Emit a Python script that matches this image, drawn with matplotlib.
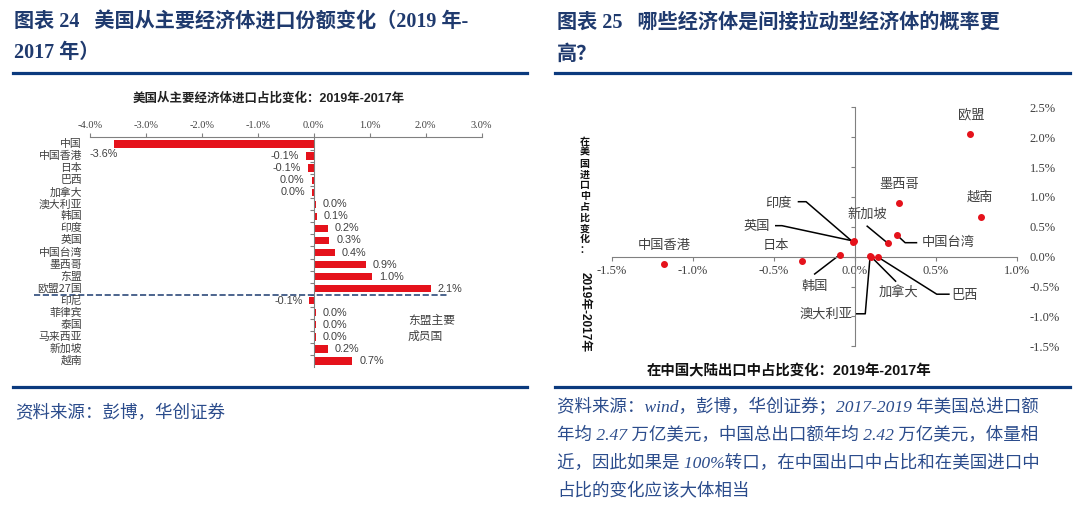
import matplotlib.pyplot as plt
from matplotlib.lines import Line2D

plt.rcParams['font.family'] = ['Liberation Sans', 'Noto Sans CJK SC']

navy = '#1F3A6E'
rule_c = '#0B3A7E'
red = '#E5121B'
gray = '#404040'

# left chart: change of share in US imports, 2019 vs 2017 (%)
bar_names = ['中国', '中国香港', '日本', '巴西', '加拿大', '澳大利亚', '韩国', '印度', '英国', '中国台湾',
             '墨西哥', '东盟', '欧盟27国', '印尼', '菲律宾', '泰国', '马来西亚', '新加坡', '越南']
bar_vals = [-3.58, -0.14, -0.10, -0.04, -0.03, 0.03, 0.05, 0.25, 0.28, 0.38,
            0.93, 1.04, 2.09, -0.08, 0.03, 0.03, 0.04, 0.25, 0.69]
bar_ticks = [-4, -3, -2, -1, 0, 1, 2, 3]

# right chart: share change in China exports (x) vs US imports (y)
sc_names = ['欧盟', '墨西哥', '越南', '中国台湾', '新加坡', '印度', '英国', '韩国', '日本', '中国香港',
            '澳大利亚', '加拿大', '巴西']
sc_x = [0.711, 0.272, 0.781, 0.261, 0.204, -0.01, -0.006, -0.093, -0.329, -1.178, 0.094, 0.102, 0.144]
sc_y = [2.05, 0.893, 0.658, 0.357, 0.223, 0.24, 0.26, 0.033, -0.078, -0.128, 0.01, -0.005, -0.01]
sc_xticks = [-1.5, -1.0, -0.5, 0.0, 0.5, 1.0]
sc_yticks = [-1.5, -1.0, -0.5, 0.0, 0.5, 1.0, 1.5, 2.0, 2.5]

# label placement (text x, text y, ha, elbow points of leader line)
label_layout = {
    '欧盟': (0.718, 2.37, 'center', None),
    '墨西哥': (0.272, 1.20, 'center', None),
    '越南': (0.771, 0.99, 'center', None),
    '新加坡': (0.076, 0.71, 'center', [(0.076, 0.51)]),
    '中国台湾': (0.41, 0.234, 'left', [(0.38, 0.234), (0.31, 0.234)]),
    '印度': (-0.471, 0.893, 'center', [(-0.348, 0.92), (-0.301, 0.92)]),
    '英国': (-0.605, 0.513, 'center', [(-0.488, 0.519), (-0.45, 0.519)]),
    '日本': (-0.486, 0.179, 'center', None),
    '中国香港': (-1.176, 0.179, 'center', None),
    '韩国': (-0.248, -0.49, 'center', [(-0.248, -0.29)]),
    '加拿大': (0.272, -0.60, 'center', [(0.251, -0.41)]),
    '巴西': (0.675, -0.656, 'center', [(0.58, -0.628), (0.505, -0.628)]),
    '澳大利亚': (-0.18, -0.956, 'center', [(0.006, -0.956), (0.064, -0.956)]),
}

W, H = 1080, 522
fig = plt.figure(figsize=(W / 100, H / 100), dpi=100)


def fx(px):
    return px / W


def fy(py):
    return 1 - py / H


def hline(x0, x1, y):
    fig.add_artist(Line2D([fx(x0), fx(x1)], [fy(y), fy(y)], color=rule_c, lw=2.3))


serif_cjk = ['Liberation Serif', 'Noto Sans CJK SC']

# ---- headers / footers
title_kw = dict(fontsize=14.5, fontweight='bold', color=navy, va='center', family=serif_cjk)
fig.text(fx(14), fy(23), '图表 24   美国从主要经济体进口份额变化（2019 年-', **title_kw)
fig.text(fx(14), fy(53), '2017 年）', **title_kw)
fig.text(fx(557), fy(23), '图表 25   哪些经济体是间接拉动型经济体的概率更', **title_kw)
fig.text(fx(557), fy(55), '高？', **title_kw)
hline(13, 527, 73.3)
hline(555, 1070, 73.3)
hline(13, 527, 387.3)
hline(555, 1070, 387.3)

src_kw = dict(fontsize=12.6, color='#2B4C8C', style='italic', va='center', family=serif_cjk)
fig.text(fx(15), fy(413), '资料来源：彭博，华创证券', **src_kw)
src_lines = ['资料来源：wind，彭博，华创证券；2017-2019 年美国总进口额',
             '年均 2.47 万亿美元，中国总出口额年均 2.42 万亿美元，体量相',
             '近，因此如果是 100%转口，在中国出口中占比和在美国进口中',
             '占比的变化应该大体相当']
for i, s in enumerate(src_lines):
    fig.text(fx(557), fy(407 + 28.3 * i), s, **src_kw)

# ---- left bar chart
ax = fig.add_axes([fx(90), fy(366.7), (481.7 - 90) / W, (366.7 - 137) / H])
pos = list(range(len(bar_names)))
ax.barh(pos, bar_vals, height=0.6, color=red)
ax.set_xlim(-4, 3)
ax.set_ylim(18.47, -0.58)
for s in ['right', 'bottom']:
    ax.spines[s].set_visible(False)
ax.spines['top'].set_color('#808080')
ax.spines['left'].set_position(('data', 0))
ax.spines['left'].set_color('#808080')
ax.xaxis.tick_top()
ax.set_xticks(bar_ticks)
ax.set_xticklabels([f'{t:.1f}%' for t in bar_ticks], family='Liberation Serif')
ax.tick_params(axis='x', length=3, pad=2, labelsize=7.5, colors='#808080', labelcolor=gray)
ax.set_yticks([p + 0.5 for p in pos[:-1]])
ax.set_yticklabels([])
ax.tick_params(axis='y', length=3, colors='#808080')
ytr = ax.get_yaxis_transform()
for p, name in zip(pos, bar_names):
    ax.text(-0.02, p, name, transform=ytr, ha='right', va='center', fontsize=7.8, color=gray,
            family=['Noto Sans CJK SC'])
for p, v in zip(pos, bar_vals):
    lab = f'{round(v, 1) + 0.0:.1f}%'
    if p == 0:
        ax.text(-3.75, p + 0.8, lab, ha='center', va='center', fontsize=7.8, color=gray)
    elif v < 0:
        ax.annotate(lab, (v, p), xytext=(-5, 0), textcoords='offset points', ha='right',
                    va='center', fontsize=7.8, color=gray)
    else:
        ax.annotate(lab, (v, p), xytext=(5, 0), textcoords='offset points', ha='left',
                    va='center', fontsize=7.8, color=gray)
ax.plot([-5.0, 2.42], [12.5, 12.5], ls='--', color='#2E4A7A', lw=1.2, clip_on=False)
ax.text(1.68, 14.6, '东盟主要', fontsize=8.5, color=gray, va='center', family=['Noto Sans CJK SC'])
ax.text(1.68, 15.95, '成员国', fontsize=8.5, color=gray, va='center', family=['Noto Sans CJK SC'])
fig.text(fx(269), fy(98), '美国从主要经济体进口占比变化：2019年-2017年', ha='center', va='center',
         fontsize=9, fontweight='bold', color='#222222')

# ---- right scatter chart
bx = fig.add_axes([fx(611.7), fy(346.3), (1017 - 611.7) / W, (346.3 - 107.3) / H])
bx.scatter(sc_x, sc_y, s=16, color=red, zorder=3)
bx.set_xlim(-1.5, 1.0)
bx.set_ylim(-1.5, 2.5)
for s in ['right', 'top']:
    bx.spines[s].set_visible(False)
bx.spines['left'].set_position(('data', 0))
bx.spines['bottom'].set_position(('data', 0))
for s in ['left', 'bottom']:
    bx.spines[s].set_color('#808080')
bx.set_xticks(sc_xticks)
bx.set_xticklabels([f'{t:.1f}%' for t in sc_xticks], family='Liberation Serif')
bx.set_yticks(sc_yticks)
bx.set_yticklabels([f'{t:.1f}%' for t in sc_yticks], family='Liberation Serif')
bx.tick_params(axis='x', length=3, pad=3, labelsize=9, colors='#808080', labelcolor=gray)
bx.tick_params(axis='y', length=3, pad=6, labelsize=9, colors='#808080', labelcolor=gray,
               left=True, right=False, labelleft=False, labelright=True)

for i, name in enumerate(sc_names):
    tx, ty, ha, elbow = label_layout[name]
    bx.text(tx, ty, name, ha=ha, va='center', fontsize=9.5, color=gray,
            family=['Noto Sans CJK SC'])
    if elbow:
        xs = [e[0] for e in elbow] + [sc_x[i]]
        ys = [e[1] for e in elbow] + [sc_y[i]]
        bx.plot(xs, ys, color='black', lw=1.1, zorder=2)

ylab = '在美国进口中占比变化：'
for k, ch in enumerate(ylab):
    fig.text(fx(584.7), fy(142 + 10.8 * k), ch, ha='center', va='center', fontsize=7.2,
             fontweight='bold', color='#111111', family=['Noto Sans CJK SC'])
fig.text(fx(584.7), fy(312.5), '2019年-2017年', rotation=270, ha='center', va='center',
         fontsize=8.5, fontweight='bold', color='#111111')
fig.text(fx(789.5), fy(371.7), '在中国大陆出口中占比变化：2019年-2017年', ha='center', va='center',
         fontsize=10.4, fontweight='bold', color='#111111')

fig.savefig('out.png', dpi=100, facecolor='white')
